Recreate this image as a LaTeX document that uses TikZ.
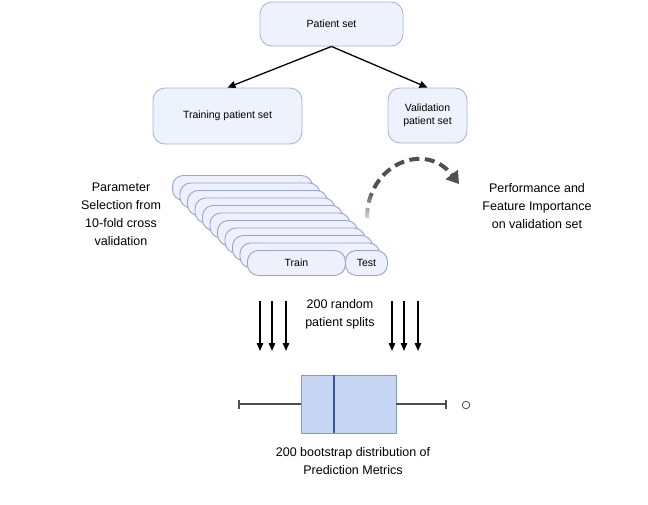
\documentclass[tikz,border=0pt]{standalone}
\usepackage{fontspec}
\setmainfont{Liberation Sans}
\usetikzlibrary{arrows.meta,fadings}
\definecolor{boxfill}{HTML}{EEF2FC}
\definecolor{boxline}{HTML}{A6B4DE}
\definecolor{layfill}{HTML}{EEF1FC}
\definecolor{layline}{HTML}{94A4D8}
\definecolor{bpfill}{HTML}{C6D5F1}
\definecolor{bpline}{HTML}{7F98D0}
\definecolor{bpmed}{HTML}{3B58A6}
\definecolor{dgray}{HTML}{505050}
\tikzset{
  setbox/.style={draw=boxline, fill=boxfill, line width=0.9pt, rounded corners=12pt, align=center, font=\fontsize{10.5}{13.5}\selectfont, inner sep=0pt},
  layer/.style={draw=layline, fill=layfill, line width=0.9pt, rounded corners=11pt, minimum width=140pt, minimum height=25pt, anchor=north west, inner sep=0pt, font=\fontsize{10.5}{12}\selectfont},
  lbl/.style={align=center, font=\fontsize{12.5}{18}\selectfont, inner sep=0pt},
  conn/.style={line width=1.3pt, -{Triangle[length=8pt,width=7pt]}},
  varrow/.style={line width=1.4pt, -{Triangle[length=8pt,width=6.5pt]}},
}
\begin{document}
\begin{tikzpicture}[x=1pt,y=-1pt]
\useasboundingbox (0,0) rectangle (648,504);
% top boxes
\node[setbox, minimum width=143pt, minimum height=44pt] (ps) at (331.5,24) {Patient set};
\node[setbox, minimum width=149pt, minimum height=56pt] (tr) at (227.5,116) {Training patient set};
\node[setbox, minimum width=79pt, minimum height=55pt] (va) at (427.5,115.5) {Validation\\patient set};
\draw[conn] (ps.south) -- (tr.north);
\draw[conn] (ps.south) -- (va.north);
% stacked folds
\foreach \i in {0,...,9} {
  \node[layer] (L\i) at ({172+7.5*\i},{175+7.5*\i}) {};
}
\node[layer, minimum width=98pt] (train) at (247,250) {Train};
\node[layer, minimum width=42pt] (test) at (345,250) {Test};
% side labels
\node[lbl] (param) at (121,214.5) {Parameter\\Selection from\\10-fold cross\\validation};
\node[lbl] (perf) at (537,206) {Performance and\\Feature Importance\\on validation set};
% dashed curved arrow
\coordinate (ds) at (367,218);
\coordinate (de) at (459,184);
\draw[dgray, line width=4pt, dash pattern=on 10pt off 5.5pt, -{Triangle[length=12pt,width=15pt]}]
  (ds) .. controls (367,165) and (425,140) .. (de);
\fill[white, fill opacity=0.8, path fading=north] (358,190) rectangle (377,219);
% splits label
\node[lbl] (splits) at (340,314) {200 random\\patient splits};
% vertical arrows
\foreach \x [count=\k] in {260,272,286,392,404,418} {
  \coordinate (a\k) at (\x,301);
  \coordinate (b\k) at (\x,351);
  \draw[varrow] (a\k) -- (b\k);
}
% box plot
\coordinate (wl) at (239,404);
\coordinate (wr) at (446,404);
\node[draw=bpline, fill=bpfill, line width=0.9pt, minimum width=95pt, minimum height=58pt, inner sep=0pt] (bx) at (348.5,404) {};
\draw[dgray, line width=1.2pt] (wl) -- (bx.west);
\draw[dgray, line width=1.2pt] (bx.east) -- (wr);
\draw[dgray, line width=1.2pt] ([yshift=-4.5pt]wl) -- ([yshift=4.5pt]wl);
\draw[dgray, line width=1.2pt] ([yshift=-4.5pt]wr) -- ([yshift=4.5pt]wr);
\coordinate (mt) at (334,375);
\coordinate (mb) at (334,433);
\draw[bpmed, line width=1.8pt] (mt) -- (mb);
\node[draw=dgray, line width=0.8pt, circle, minimum size=7.5pt, inner sep=0pt] (out) at (466,405) {};
\node[lbl] (boot) at (353,461.5) {200 bootstrap distribution of\\Prediction Metrics};
\end{tikzpicture}
\end{document}
